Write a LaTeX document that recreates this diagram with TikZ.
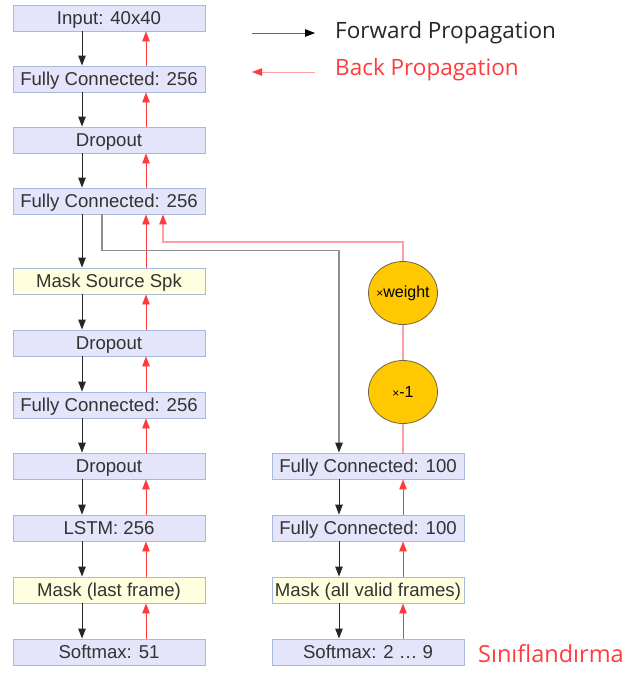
\documentclass[tikz,border=0pt]{standalone}
\usepackage{fontspec}
\setmainfont{Liberation Sans}
\newfontfamily\legendfont{Open Sans}
\usetikzlibrary{arrows.meta,shapes.geometric}

\definecolor{boxfill}{HTML}{E4E4FA}
\definecolor{boxedge}{HTML}{A9B9DD}
\definecolor{maskfill}{HTML}{FFFFE0}
\definecolor{boxtext}{HTML}{333333}
\definecolor{opfill}{HTML}{FFC800}
\definecolor{opedge}{HTML}{6E6548}
\definecolor{fwdcol}{HTML}{262626}
\definecolor{sidecol}{HTML}{8E8E8E}
\definecolor{backcol}{HTML}{FF3B3B}
\definecolor{palered}{HTML}{FFA0A0}

\tikzset{
  layer/.style={draw=boxedge, line width=0.9pt, fill=boxfill, minimum width=192pt,
    minimum height=26pt, inner sep=0pt, text=boxtext, text height=13.5pt, text depth=1pt,
    font=\fontsize{18.6}{20}\selectfont},
  masklayer/.style={layer, fill=maskfill},
  op/.style={ellipse, draw=opedge, line width=0.8pt, fill=opfill, minimum width=69pt,
    minimum height=63pt, inner xsep=-12pt, inner ysep=0pt, text=black,
    font=\fontsize{16}{18}\selectfont},
  tip/.style={-{Triangle[length=10pt,width=7.5pt]}},
  fwd/.style={tip, draw=fwdcol, line width=0.9pt},
  back/.style={tip, draw=backcol, line width=0.9pt},
  side/.style={draw=sidecol, line width=1.2pt, -{Triangle[length=10pt,width=7.5pt,fill=fwdcol,color=fwdcol]}},
  backside/.style={draw=palered, line width=1.1pt, -{Triangle[length=10pt,width=7.5pt,fill=backcol,color=backcol]}},
  plainback/.style={draw=palered, line width=1.1pt},
  legend/.style={anchor=west, inner sep=0pt, font=\legendfont\fontsize{22.5}{25}\selectfont}
}

\begin{document}
\begin{tikzpicture}[x=1pt,y=-1pt]
\useasboundingbox (0,0) rectangle (624,673);

% main branch
\node[layer] (in)   at (109,18)  {Input: 40x40};
\node[layer] (fca)  at (109,79)  {Fully Connected: 256};
\node[layer] (dra)  at (109,140) {Dropout};
\node[layer] (fcb)  at (109,201) {Fully Connected: 256};
\node[masklayer] (msk) at (109,281) {Mask Source Spk};
\node[layer] (drb)  at (109,343) {Dropout};
\node[layer] (fcc)  at (109,405) {Fully Connected: 256};
\node[layer] (drc)  at (109,466) {Dropout};
\node[layer] (lstm) at (109,528) {LSTM: 256};
\node[masklayer] (mlf) at (109,590) {Mask (last frame)};
\node[layer] (smx)  at (109,652) {Softmax: 51};

% adversarial branch
\node[layer] (rfa)  at (368,466) {Fully Connected: 100};
\node[layer] (rfb)  at (368,528) {Fully Connected: 100};
\node[masklayer] (rmk) at (368,590) {Mask (all valid frames)};
\node[layer] (rsm)  at (368,652) {Softmax: 2 \dots\ 9};

\node[op] (wt)  at (403,293) {{\fontsize{12}{14}\selectfont ×}weight};
\node[op] (neg) at (403,392) {{\fontsize{12}{14}\selectfont ×}-1};

% forward arrows, main branch
\foreach \a/\b in {in/fca, fca/dra, dra/fcb, fcb/msk, msk/drb, drb/fcc,
                   fcc/drc, drc/lstm, lstm/mlf, mlf/smx}
  \draw[fwd] ([xshift=-27pt]\a.south) -- ([xshift=-27pt]\b.north);
% back arrows, main branch
\foreach \a/\b in {in/fca, fca/dra, dra/fcb, fcb/msk, msk/drb, drb/fcc,
                   fcc/drc, drc/lstm, lstm/mlf, mlf/smx}
  \draw[back] ([xshift=37pt]\b.north) -- ([xshift=37pt]\a.south);

% forward and back arrows, adversarial branch
\foreach \a/\b in {rfa/rfb, rfb/rmk, rmk/rsm} {
  \draw[fwd] ([xshift=-29pt]\a.south) -- ([xshift=-29pt]\b.north);
  \draw[back] ([xshift=35pt]\b.north) -- ([xshift=35pt]\a.south);
}

% branch split into the adversarial path
\draw[side] ([xshift=-7pt]fcb.south) -- ++(0,36) -| ([xshift=-29pt]rfa.north);

% reversed gradient back into the shared layers
\draw[plainback] ([xshift=35pt]rfa.north) -- (neg.south);
\draw[plainback] (neg.north) -- (wt.south);
\coordinate (turn) at (403,242);
\draw[backside] (wt.north) -- (turn) -| ([xshift=54pt]fcb.south);

% legend
\coordinate (fwdA) at (252,33);
\coordinate (fwdB) at (315,33);
\coordinate (bckA) at (315,72);
\coordinate (bckB) at (252,72);
\draw[draw=gray!80!black, line width=0.9pt, -{Triangle[length=10pt,width=7.5pt,fill=black,color=black]}] (fwdA) -- (fwdB);
\draw[draw=palered, line width=0.9pt, -{Triangle[length=10pt,width=7.5pt,fill=backcol,color=backcol]}] (bckA) -- (bckB);
\node[legend, text=black!85] (fwdtxt) at (335,33) {Forward Propagation};
\node[legend, text=backcol] (bcktxt) at (335,70) {Back Propagation};

\node[legend, text=backcol, font=\legendfont\fontsize{23.5}{26}\selectfont] (cls) at (478,654) {Sınıflandırma};
\end{tikzpicture}
\end{document}
